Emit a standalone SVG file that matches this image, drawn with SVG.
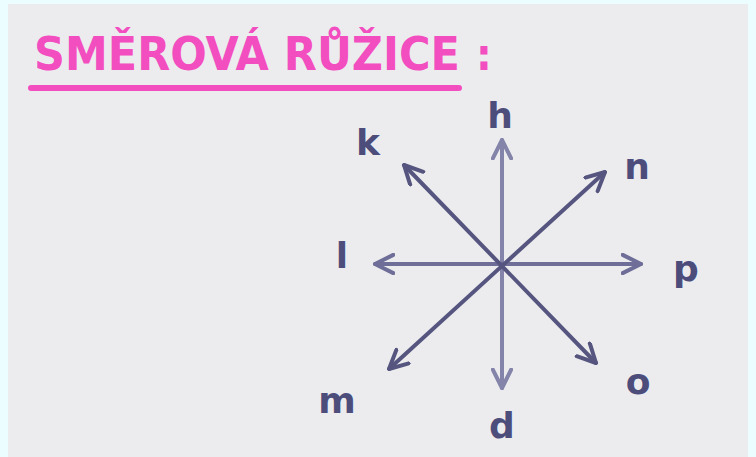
<svg xmlns="http://www.w3.org/2000/svg" width="756" height="457" viewBox="0 0 756 457">
<style>
.title{font-family:"DejaVu Sans Condensed","DejaVu Sans","Liberation Sans",sans-serif;font-weight:bold;fill:#f24ec0;}
.lbl{font-family:"DejaVu Sans","Liberation Sans",sans-serif;font-weight:bold;font-size:36px;fill:#4d4d7c;text-anchor:middle;}
.ax{fill:none;stroke-width:4;stroke-linecap:round;}
</style>
<defs>
<marker id="ahv" viewBox="0 0 12 12" refX="11" refY="6" markerWidth="5.5" markerHeight="5.5" orient="auto-start-reverse" markerUnits="strokeWidth">
<path d="M1,1 L11,6 L1,11" fill="none" stroke="#8484aa" stroke-width="2.2" stroke-linecap="round" stroke-linejoin="round"/>
</marker>
<marker id="ahh" viewBox="0 0 12 12" refX="11" refY="6" markerWidth="5.5" markerHeight="5.5" orient="auto-start-reverse" markerUnits="strokeWidth">
<path d="M1,1 L11,6 L1,11" fill="none" stroke="#6e6e98" stroke-width="2.2" stroke-linecap="round" stroke-linejoin="round"/>
</marker>
<marker id="ahd" viewBox="0 0 12 12" refX="11" refY="6" markerWidth="5.5" markerHeight="5.5" orient="auto-start-reverse" markerUnits="strokeWidth">
<path d="M1,1 L11,6 L1,11" fill="none" stroke="#55557f" stroke-width="2.2" stroke-linecap="round" stroke-linejoin="round"/>
</marker>
</defs>
<rect width="756" height="457" fill="#ebfdfe"/>
<rect x="8" y="4" width="740" height="453" fill="#ececef"/>
<g id="title">
<text class="title" x="34" y="70" font-size="47" textLength="426" lengthAdjust="spacingAndGlyphs">SMĚROVÁ RŮŽICE</text>
<text class="title" x="476" y="70" font-size="44">:</text>
<line x1="31" y1="88" x2="459" y2="88" stroke="#f24ec0" stroke-width="6" stroke-linecap="round"/>
</g>
<g id="connectors">
<line class="ax" x1="502" y1="140" x2="502" y2="388" stroke="#8484aa" marker-start="url(#ahv)" marker-end="url(#ahv)"/>
<line class="ax" x1="375" y1="264" x2="641" y2="264" stroke="#6e6e98" marker-start="url(#ahh)" marker-end="url(#ahh)"/>
<line class="ax" x1="404" y1="165" x2="596" y2="363" stroke="#55557f" marker-start="url(#ahd)" marker-end="url(#ahd)"/>
<line class="ax" x1="605" y1="172" x2="389" y2="369" stroke="#55557f" marker-start="url(#ahd)" marker-end="url(#ahd)"/>
</g>
<g id="node-h"><text class="lbl" x="500" y="128">h</text></g>
<g id="node-k"><text class="lbl" x="368" y="155">k</text></g>
<g id="node-n"><text class="lbl" x="637" y="179">n</text></g>
<g id="node-l"><text class="lbl" x="342" y="268">l</text></g>
<g id="node-p"><text class="lbl" x="686" y="281">p</text></g>
<g id="node-m"><text class="lbl" x="337" y="413">m</text></g>
<g id="node-d"><text class="lbl" x="502" y="438">d</text></g>
<g id="node-o"><text class="lbl" x="638" y="394">o</text></g>
</svg>
